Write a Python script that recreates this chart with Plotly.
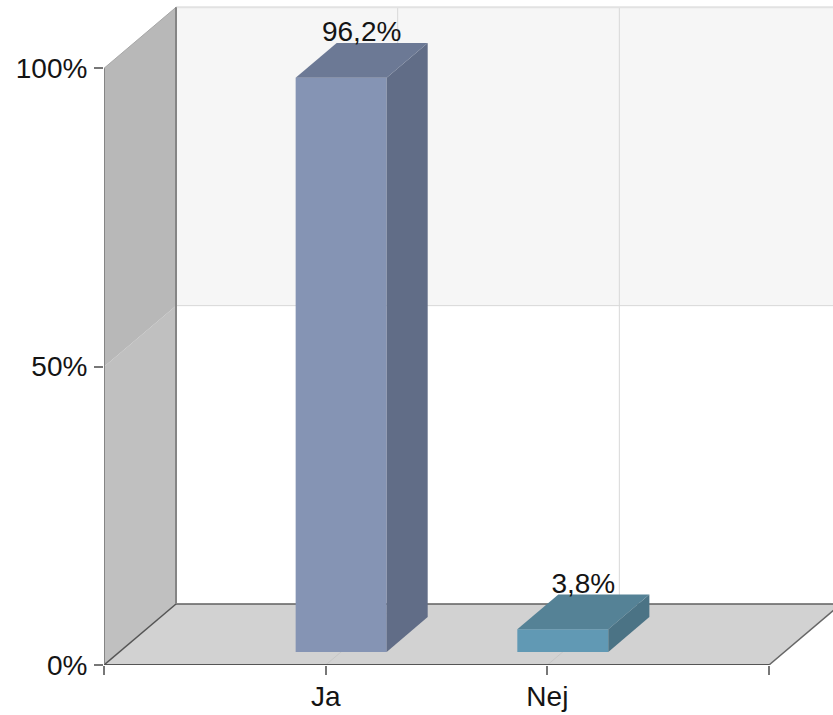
import plotly.graph_objects as go

categories = ["Ja", "Nej"]
values = [96.2, 3.8]
value_labels = ["96,2%", "3,8%"]
front_colors = ["#8594b4", "#6199b4"]
side_colors = ["#616d87", "#4b7385"]
top_colors = ["#6c7995", "#558296"]
y_ticks = [0, 50, 100]
y_tick_labels = ["0%", "50%", "100%"]

W, H = 833, 715
ML, MB = 104, 50
X_UNIT = 221.67          # pixels per category
Y_UNIT = 5.967           # pixels per percent
DX = 72 / X_UNIT         # depth of the box, x units
DY = 61 / Y_UNIT         # depth of the box, y units
Z0, Z1 = 0.215, 0.785    # bar position inside the depth
BAR_W = 91 / X_UNIT
FS = 28
TXT = "#141414"


def poly(xs, ys, color, line=None, width=1, layer="below"):
    path = "M " + " L ".join(f"{x},{y}" for x, y in zip(xs, ys)) + " Z"
    return dict(type="path", path=path, xref="x", yref="y", fillcolor=color,
                line=dict(color=line or color, width=width if line else 0), layer=layer)


def seg(x0, y0, x1, y1, color, width=1):
    return dict(type="line", x0=x0, y0=y0, x1=x1, y1=y1, xref="x", yref="y",
                line=dict(color=color, width=width), layer="below")


shapes = [
    # back wall
    poly([DX, 4, 4, DX], [DY + 50, DY + 50, DY + 100, DY + 100], "#f6f6f6"),
    # left wall
    poly([0, DX, DX, 0], [0, DY, DY + 50, 50], "#c0c0c0"),
    poly([0, DX, DX, 0], [50, DY + 50, DY + 100, 100], "#b8b8b8"),
    # floor
    poly([0, 3, 3 + DX, DX], [0, 0, DY, DY], "#d2d2d2"),
]
# grid on the back wall and floor
for i in (1, 2):
    shapes.append(seg(i + DX, DY, i + DX, DY + 100, "#d8d8d8"))
    shapes.append(seg(i, 0, i + DX, DY, "#c6c6c6"))
shapes += [
    seg(DX, DY + 50, 4, DY + 50, "#d8d8d8"),
    seg(DX, DY + 100, 4, DY + 100, "#e2e2e2", 2),
    seg(DX, DY, 4, DY, "#5f5f5f", 1.5),
    seg(0, 0, DX, DY, "#555555", 1.5),
    seg(3, 0, 3 + DX, DY, "#666666", 1.5),
    seg(0, 100, DX, DY + 100, "#a8a8a8", 1),
    seg(0, 0, 0, 100, "#858585", 2),
    seg(DX, DY, DX, DY + 100, "#858585", 2),
    seg(0, 0, 3, 0, "#555555", 2),
]

fig = go.Figure()

centres = [i + 1 + Z0 * DX for i in range(len(categories))]
base = Z0 * DY
d_x = (Z1 - Z0) * DX
d_y = (Z1 - Z0) * DY

fig.add_trace(go.Bar(x=centres, y=values, base=base, width=BAR_W,
                     marker=dict(color=front_colors, line=dict(width=0)),
                     hoverinfo="skip", showlegend=False))

for c, v, sc, tc in zip(centres, values, side_colors, top_colors):
    l, r = c - BAR_W / 2, c + BAR_W / 2
    t = base + v
    fig.add_trace(go.Scatter(x=[r, r + d_x, r + d_x, r, r], y=[base, base + d_y, t + d_y, t, base],
                             mode="lines", fill="toself", fillcolor=sc, line=dict(width=0),
                             hoverinfo="skip", showlegend=False))
    fig.add_trace(go.Scatter(x=[l, r, r + d_x, l + d_x, l], y=[t, t, t + d_y, t + d_y, t],
                             mode="lines", fill="toself", fillcolor=tc, line=dict(width=0),
                             hoverinfo="skip", showlegend=False))

fig.add_trace(go.Scatter(x=[c + d_x / 2 for c in centres],
                         y=[base + v + d_y - 0.9 for v in values],
                         mode="text", text=value_labels, textposition="top center",
                         textfont=dict(family="Liberation Sans, Arial, sans-serif", size=FS, color=TXT),
                         hoverinfo="skip", showlegend=False, cliponaxis=False))

fig.update_layout(
    width=W, height=H, autosize=False,
    margin=dict(l=ML, r=0, t=0, b=MB, pad=0),
    paper_bgcolor="white", plot_bgcolor="white",
    shapes=shapes, showlegend=False,
    font=dict(family="Liberation Sans, Arial, sans-serif", size=FS, color=TXT),
    xaxis=dict(range=[0, (W - ML) / X_UNIT], showgrid=False, zeroline=False, showline=False,
               tickmode="array", tickvals=[0, 1, 2, 3], ticktext=[""] + categories + [""],
               ticks="outside", ticklen=9, tickwidth=1.5, tickcolor="#777777",
               ticklabelstandoff=-3, tickfont=dict(size=FS, color=TXT)),
    yaxis=dict(range=[0, (H - MB) / Y_UNIT], showgrid=False, zeroline=False, showline=False,
               tickmode="array", tickvals=y_ticks, ticktext=y_tick_labels,
               ticks="outside", ticklen=9, tickwidth=1.5, tickcolor="#777777",
               ticklabelstandoff=1, tickfont=dict(size=FS, color=TXT)),
)

fig.write_html("out.html", config=dict(displayModeBar=False),
               post_script="document.body.style.margin='0';document.body.style.overflow='hidden';")
